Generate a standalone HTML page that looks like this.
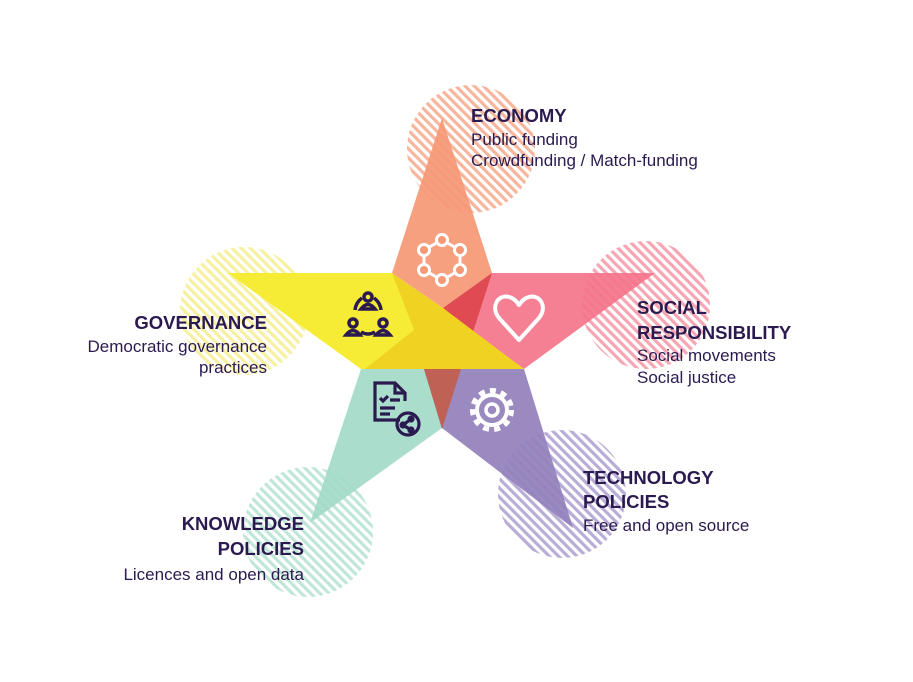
<!DOCTYPE html>
<html><head><meta charset="utf-8"><style>
html,body{margin:0;padding:0;background:#fff;}
svg{display:block;}
.t{font-family:"Liberation Sans",sans-serif;fill:#2b1a4f;}
.h{font-weight:bold;font-size:18.5px;}
.s{font-size:17px;}
</style></head><body>
<svg width="913" height="682" viewBox="0 0 913 682">
<defs>
<pattern id="pO" width="6.5" height="6.5" patternUnits="userSpaceOnUse" patternTransform="rotate(-45)"><rect width="3.2" height="6.5" fill="#f7b59c"/></pattern>
<pattern id="pY" width="6.5" height="6.5" patternUnits="userSpaceOnUse" patternTransform="rotate(-45)"><rect width="3.2" height="6.5" fill="#f7f0a0"/></pattern>
<pattern id="pP" width="6.5" height="6.5" patternUnits="userSpaceOnUse" patternTransform="rotate(-45)"><rect width="3.2" height="6.5" fill="#f6a5b2"/></pattern>
<pattern id="pV" width="6.5" height="6.5" patternUnits="userSpaceOnUse" patternTransform="rotate(-45)"><rect width="3.2" height="6.5" fill="#b9acd6"/></pattern>
<pattern id="pT" width="6.5" height="6.5" patternUnits="userSpaceOnUse" patternTransform="rotate(-45)"><rect width="3.2" height="6.5" fill="#bfe6d8"/></pattern>
</defs>
<g>
<circle cx="471" cy="149" r="64" fill="url(#pO)"/>
<circle cx="244" cy="311" r="64" fill="url(#pY)"/>
<circle cx="646" cy="305" r="64" fill="url(#pP)"/>
<circle cx="562" cy="494" r="64" fill="url(#pV)"/>
<circle cx="308" cy="532" r="65" fill="url(#pT)"/>
</g>
<g fill-opacity="0.92">
<polygon points="442,118 492,273 443,308 392,273" fill="#f59875"/>
<polygon points="492,273 655,273 524,369 473,332 443,308" fill="#f4748a"/>
<polygon points="310,523 361,369 461,369 442,428" fill="#a4dac8"/>
<polygon points="573,528 524,369 424,369 442,428" fill="#9180bb"/>
</g>
<polygon points="443,308 492,273 473,332" fill="#e04a52"/>
<polygon points="424,369 461,369 442,429" fill="#bf6154"/>
<polygon points="228,273 392,273 524,369 361,369" fill="#f6ec36"/>
<polygon points="392,273 443,308 524,369 365,369 414,330" fill="#f0d222"/>
<g fill="#fff" stroke="#fff" stroke-width="3">
<polygon points="442,240 460,250 460,270 442,280 424,270 424,250" fill="none"/>
<circle cx="442" cy="240" r="5.5" fill="#f59875"/><circle cx="460" cy="250" r="5.5" fill="#f59875"/><circle cx="460" cy="270" r="5.5" fill="#f59875"/>
<circle cx="442" cy="280" r="5.5" fill="#f59875"/><circle cx="424" cy="270" r="5.5" fill="#f59875"/><circle cx="424" cy="250" r="5.5" fill="#f59875"/>
</g>
<path d="M519,340 L499,318 C490,307 498,294 509,297 C514,298 517,302 519,305 C521,302 524,298 529,297 C540,294 548,307 539,318 Z" fill="none" stroke="#fff" stroke-width="4" stroke-linejoin="round"/>
<g fill="none" stroke="#2b1a4f" stroke-width="3.5">
<circle cx="368" cy="297" r="4"/><path d="M361,309 q7,-9 14,0 z"/>
<circle cx="353" cy="323" r="4"/><path d="M346,335 q7,-9 14,0 z"/>
<circle cx="383" cy="323" r="4"/><path d="M376,335 q7,-9 14,0 z"/>
<path d="M355,310 a17,17 0 0 1 7,-12 M381,310 a17,17 0 0 0 -7,-12 M361,332 q7,4 14,0"/>
</g>
<g fill="none" stroke="#2b1a4f" stroke-width="3.2">
<path d="M400,420 h-25 v-37 h20 l10,10 v8 M395,383 v10 h10"/>
<path d="M380,398 l3,3 5,-5 M390,400 h10 M380,408 h15 M380,414 h10"/>
<circle cx="408" cy="424" r="11"/><circle cx="403" cy="425" r="2" fill="#2b1a4f"/><circle cx="411" cy="419" r="2" fill="#2b1a4f"/><circle cx="411" cy="430" r="2" fill="#2b1a4f"/>
<path d="M403,425 l8,-6 M403,425 l8,5"/>
</g>
<g stroke="#fff" fill="none">
<circle cx="492" cy="410" r="15" stroke-width="4"/>
<circle cx="492" cy="410" r="6" stroke-width="3.5"/>
<circle cx="492" cy="410" r="19.5" stroke-width="5" stroke-dasharray="6 5.2"/>
</g>
<g>
<text class="t h" x="471" y="122">ECONOMY</text>
<text class="t s" x="471" y="145">Public funding</text>
<text class="t s" x="471" y="166">Crowdfunding / Match-funding</text>
</g>
<g text-anchor="end">
<text class="t h" x="267" y="329">GOVERNANCE</text>
<text class="t s" x="267" y="352">Democratic governance</text>
<text class="t s" x="267" y="373">practices</text>
</g>
<g>
<text class="t h" x="637" y="314">SOCIAL</text>
<text class="t h" x="637" y="339">RESPONSIBILITY</text>
<text class="t s" x="637" y="361">Social movements</text>
<text class="t s" x="637" y="383">Social justice</text>
</g>
<g>
<text class="t h" x="583" y="484">TECHNOLOGY</text>
<text class="t h" x="583" y="508">POLICIES</text>
<text class="t s" x="583" y="531">Free and open source</text>
</g>
<g text-anchor="end">
<text class="t h" x="304" y="530">KNOWLEDGE</text>
<text class="t h" x="304" y="555">POLICIES</text>
<text class="t s" x="304" y="580">Licences and open data</text>
</g>
</svg>
</body></html>
